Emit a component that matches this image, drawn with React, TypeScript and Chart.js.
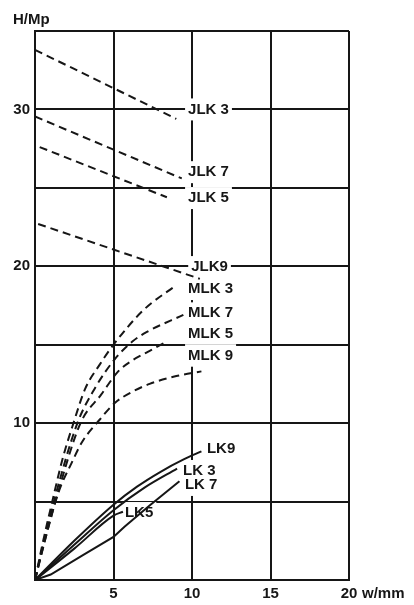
import React, { useEffect, useRef } from "react";
import { Chart, registerables } from "chart.js";

Chart.register(...registerables);

// ---- data ----
const X_LABELED_TICKS = [5, 10, 15, 20];
const Y_LABELED_TICKS = [10, 20, 30];
const X_UNIT = "w/mm";
const Y_UNIT = "H/Mp";

const JLK3 = [{ x: 0, y: 33.8 }, { x: 9.0, y: 29.4 }];
const JLK7 = [{ x: 0, y: 29.55 }, { x: 9.35, y: 25.6 }];
const JLK5 = [{ x: 0.3, y: 27.6 }, { x: 8.4, y: 24.4 }];
const JLK9 = [{ x: 0.2, y: 22.7 }, { x: 10.5, y: 19.2 }];

const MLK3 = [
  { x: 0, y: 0 }, { x: 0.5, y: 2.4 }, { x: 1.1, y: 5 }, { x: 1.75, y: 7.7 },
  { x: 2.45, y: 10 }, { x: 3.2, y: 12.2 }, { x: 4.1, y: 13.7 }, { x: 5, y: 15 },
  { x: 6.9, y: 17.2 }, { x: 9.0, y: 18.8 },
];
const MLK7 = [
  { x: 0, y: 0 }, { x: 0.55, y: 2.4 }, { x: 1.2, y: 5 }, { x: 2.7, y: 10 },
  { x: 3.8, y: 12.2 }, { x: 5.1, y: 14.1 }, { x: 6.2, y: 15.2 }, { x: 7.1, y: 15.8 },
  { x: 9.45, y: 16.9 },
];
const MLK5 = [
  { x: 0, y: 0 }, { x: 0.6, y: 2.4 }, { x: 1.3, y: 5 }, { x: 2.9, y: 10 },
  { x: 4.2, y: 11.8 }, { x: 5.3, y: 13.3 }, { x: 6.2, y: 14.0 }, { x: 7.1, y: 14.5 },
  { x: 8.4, y: 15.2 },
];
const MLK9 = [
  { x: 0, y: 0 }, { x: 0.65, y: 2.6 }, { x: 1.5, y: 5.6 }, { x: 2.35, y: 7.5 },
  { x: 3.0, y: 8.8 }, { x: 4.1, y: 10.2 }, { x: 5.1, y: 11.3 }, { x: 6.2, y: 12.0 },
  { x: 7.3, y: 12.5 }, { x: 9.0, y: 13.0 }, { x: 10.6, y: 13.3 },
];

const LK9 = [
  { x: 0, y: 0 }, { x: 2.5, y: 2.5 }, { x: 5, y: 4.8 }, { x: 6.5, y: 5.95 },
  { x: 8, y: 6.9 }, { x: 9.5, y: 7.7 }, { x: 10.6, y: 8.2 },
];
const LK3 = [
  { x: 0, y: 0 }, { x: 2.5, y: 2.25 }, { x: 5, y: 4.45 }, { x: 7, y: 5.9 }, { x: 9.05, y: 7.1 },
];
const LK5 = [
  { x: 0, y: 0 }, { x: 2.5, y: 2.0 }, { x: 5, y: 4.1 }, { x: 5.6, y: 4.35 },
];
const LK7 = [
  { x: 0, y: 0 }, { x: 1, y: 0.35 }, { x: 3, y: 1.55 }, { x: 5, y: 2.75 },
  { x: 5.7, y: 3.4 }, { x: 7.3, y: 4.75 }, { x: 9.2, y: 6.3 },
];

// curve labels: text, anchor x (left edge), y (middle), in data units
const LABEL_TEXT = ["JLK 3", "JLK 7", "JLK 5", "JLK9", "MLK 3", "MLK 7", "MLK 5", "MLK 9", "LK9", "LK 3", "LK 7", "LK5"];
const LABEL_X = [9.75, 9.75, 9.75, 9.95, 9.75, 9.75, 9.75, 9.75, 10.95, 9.43, 9.55, 5.73];
const LABEL_Y = [30.0, 26.0, 24.35, 19.95, 18.55, 17.0, 15.7, 14.3, 8.35, 6.95, 6.06, 4.27];

const INK = "#161616";
const FONT = 'bold 15px "Liberation Sans", Arial, sans-serif';

export default function App() {
  const ref = useRef<HTMLCanvasElement | null>(null);

  useEffect(() => {
    const canvas = ref.current;
    if (!canvas) return;

    const dashed = (label: string, data: any[], curved: boolean) => ({
      label,
      data,
      borderColor: INK,
      borderWidth: 2,
      borderDash: [8, 5],
      pointRadius: 0,
      fill: false,
      cubicInterpolationMode: curved ? "monotone" : "default",
      tension: 0,
    });
    const solid = (label: string, data: any[], curved: boolean) => ({
      label,
      data,
      borderColor: INK,
      borderWidth: 2,
      pointRadius: 0,
      fill: false,
      cubicInterpolationMode: curved ? "monotone" : "default",
      tension: curved ? 0.4 : 0,
    });

    const labelPlugin = {
      id: "curveLabels",
      beforeDatasetsDraw(chart: any) {
        const { ctx, scales } = chart;
        ctx.save();
        ctx.font = FONT;
        ctx.fillStyle = "#ffffff";
        LABEL_TEXT.forEach((t, i) => {
          const px = scales.x.getPixelForValue(LABEL_X[i]);
          const py = scales.y.getPixelForValue(LABEL_Y[i]);
          const w = ctx.measureText(t).width;
          ctx.fillRect(px - 3, py - 11, w + 6, 22);
        });
        ctx.restore();
      },
      afterDatasetsDraw(chart: any) {
        const { ctx, scales, chartArea } = chart;
        ctx.save();
        ctx.font = FONT;
        ctx.fillStyle = INK;
        ctx.textBaseline = "middle";
        ctx.textAlign = "left";
        LABEL_TEXT.forEach((t, i) => {
          const px = scales.x.getPixelForValue(LABEL_X[i]);
          const py = scales.y.getPixelForValue(LABEL_Y[i]);
          ctx.fillText(t, px, py);
        });
        // axis units
        const xLast = scales.x.getPixelForValue(20);
        ctx.fillText(X_UNIT, xLast + 13, chartArea.bottom + 14);
        ctx.fillText(Y_UNIT, 13, chartArea.top - 11);
        ctx.restore();
      },
    };

    const chart = new Chart(canvas, {
      type: "line",
      data: {
        datasets: [
          dashed("JLK 3", JLK3, false),
          dashed("JLK 7", JLK7, false),
          dashed("JLK 5", JLK5, false),
          dashed("JLK 9", JLK9, false),
          dashed("MLK 3", MLK3, true),
          dashed("MLK 7", MLK7, true),
          dashed("MLK 5", MLK5, true),
          dashed("MLK 9", MLK9, true),
          solid("LK 9", LK9, true),
          solid("LK 3", LK3, true),
          solid("LK 5", LK5, true),
          solid("LK 7", LK7, false),
        ] as any,
      },
      options: {
        responsive: false,
        animation: false,
        parsing: false as any,
        layout: { padding: { top: 31, right: 65, left: 0, bottom: 0 } },
        plugins: {
          legend: { display: false },
          tooltip: { enabled: false },
        },
        scales: {
          x: {
            type: "linear",
            min: 0,
            max: 20,
            afterFit: (s: any) => { s.height = 25; },
            ticks: {
              stepSize: 5,
              padding: 5,
              color: INK,
              font: { family: '"Liberation Sans", Arial, sans-serif', size: 15, weight: "bold" },
              callback: (v: any) => (X_LABELED_TICKS.includes(Number(v)) ? String(v) : ""),
            },
            grid: { color: INK, lineWidth: 2, drawTicks: false },
            border: { color: INK, width: 2 },
          },
          y: {
            type: "linear",
            min: 0,
            max: 35,
            afterFit: (s: any) => { s.width = 35; },
            ticks: {
              stepSize: 5,
              padding: 5,
              color: INK,
              font: { family: '"Liberation Sans", Arial, sans-serif', size: 15, weight: "bold" },
              callback: (v: any) => (Y_LABELED_TICKS.includes(Number(v)) ? String(v) : ""),
            },
            grid: { color: INK, lineWidth: 2, drawTicks: false },
            border: { color: INK, width: 2 },
          },
        },
      },
      plugins: [labelPlugin],
    });

    return () => chart.destroy();
  }, []);

  return (
    <div style={{ position: "absolute", left: 0, top: 0, width: 414, height: 605, background: "#fff" }}>
      <canvas ref={ref} width={414} height={605} style={{ display: "block" }} />
    </div>
  );
}
